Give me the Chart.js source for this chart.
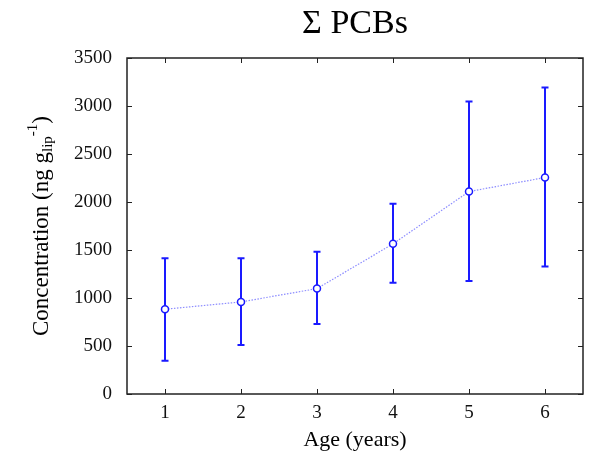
<!DOCTYPE html>
<html>
<head>
<meta charset="utf-8">
<script src="https://cdn.jsdelivr.net/npm/chart.js@4.4.1/dist/chart.umd.min.js"></script>
<style>
  html, body { margin: 0; padding: 0; background: #fff; }
  canvas { display: block; }
</style>
</head>
<body>
<canvas id="chart" width="590" height="455"></canvas>
<script>
// data
const ages = [1, 2, 3, 4, 5, 6];
const meanConc = [883, 959, 1098, 1564, 2109, 2255];
const upperConc = [1415, 1415, 1481, 1981, 3048, 3194];
const lowerConc = [347, 511, 730, 1160, 1178, 1327];
const xTicks = [1, 2, 3, 4, 5, 6];
const yTicks = [0, 500, 1000, 1500, 2000, 2500, 3000, 3500];

const serif = "'Liberation Serif', 'Times New Roman', serif";

// box, inward ticks, error bars, title and y label
const matlabStyle = {
  id: "matlabStyle",
  beforeDatasetsDraw(chart) {
    const c = chart.ctx;
    const xs = chart.scales.x, ys = chart.scales.y;
    c.save();
    c.strokeStyle = "#1a1aff";
    c.lineWidth = 2;
    ages.forEach((a, i) => {
      const x = xs.getPixelForValue(a);
      const yt = ys.getPixelForValue(upperConc[i]);
      const yb = ys.getPixelForValue(lowerConc[i]);
      c.beginPath();
      c.moveTo(x, yt); c.lineTo(x, yb);
      c.moveTo(x - 3.5, yt); c.lineTo(x + 3.5, yt);
      c.moveTo(x - 3.5, yb); c.lineTo(x + 3.5, yb);
      c.stroke();
    });
    c.restore();
  },
  afterDraw(chart) {
    const c = chart.ctx;
    const a = chart.chartArea;
    const xs = chart.scales.x, ys = chart.scales.y;
    c.save();
    c.strokeStyle = "#222";
    c.lineWidth = 1.5;
    c.strokeRect(a.left, a.top, a.right - a.left, a.bottom - a.top);
    c.lineWidth = 1;
    c.beginPath();
    xTicks.forEach(v => {
      const x = Math.round(xs.getPixelForValue(v)) + 0.5;
      c.moveTo(x, a.bottom); c.lineTo(x, a.bottom - 5);
      c.moveTo(x, a.top); c.lineTo(x, a.top + 5);
    });
    yTicks.forEach(v => {
      const y = Math.round(ys.getPixelForValue(v)) + 0.5;
      c.moveTo(a.left, y); c.lineTo(a.left + 5, y);
      c.moveTo(a.right, y); c.lineTo(a.right - 5, y);
    });
    c.stroke();

    // title
    c.fillStyle = "#000";
    c.font = "34px " + serif;
    c.textAlign = "center";
    c.textBaseline = "middle";
    c.fillText("\u03A3 PCBs", (a.left + a.right) / 2, 24);

    // y label with sub/superscript
    c.translate(42, (a.top + a.bottom) / 2);
    c.rotate(-Math.PI / 2);
    const big = "23px " + serif, small = "15px " + serif;
    const parts = [
      { t: "Concentration (ng g", f: big, dy: 0 },
      { t: "lip", f: small, dy: 6 },
      { t: "-1", f: small, dy: -9 },
      { t: ")", f: big, dy: 0 }
    ];
    let total = 0;
    parts.forEach(p => { c.font = p.f; p.w = c.measureText(p.t).width; total += p.w; });
    let x = -total / 2;
    c.textAlign = "left";
    c.textBaseline = "middle";
    parts.forEach(p => {
      c.font = p.f;
      c.fillText(p.t, x, p.dy);
      x += p.w;
    });
    c.restore();
  }
};

const ctx = document.getElementById("chart");

const chart = new Chart(ctx, {
  type: "line",
  data: {
    datasets: [{
      data: ages.map((a, i) => ({ x: a, y: meanConc[i] })),
      borderColor: "#8c8cff",
      borderWidth: 1.2,
      borderDash: [1.5, 1.5],
      pointRadius: 3.5,
      pointBorderWidth: 1.5,
      pointBorderColor: "#1a1aff",
      pointBackgroundColor: "#fff",
      tension: 0,
    }],
  },
  options: {
    responsive: false,
    animation: false,
    events: [],
    layout: { padding: { left: 0, right: 7, top: 58, bottom: 0 } },
    scales: {
      x: {
        type: "linear",
        min: 0.5,
        max: 6.5,
        afterBuildTicks: s => { s.ticks = xTicks.map(v => ({ value: v })); },
        afterFit: s => { s.height = 61; },
        grid: { display: false },
        border: { display: false },
        ticks: { color: "#111", font: { family: serif, size: 19 }, padding: 0, callback: v => String(v) },
        title: {
          display: true,
          text: "Age (years)",
          color: "#000",
          font: { family: serif, size: 22 },
          padding: { top: 0, bottom: 2 },
        },
      },
      y: {
        min: 0,
        max: 3500,
        afterBuildTicks: s => { s.ticks = yTicks.map(v => ({ value: v })); },
        afterFit: s => { s.width = 127; },
        grid: { display: false },
        border: { display: false },
        ticks: { color: "#111", font: { family: serif, size: 19 }, padding: 7, callback: v => String(v) },
      },
    },
    plugins: {
      legend: { display: false },
      title: { display: false },
      tooltip: { enabled: false },
    },
  },
  plugins: [matlabStyle],
});
</script>
</body>
</html>
